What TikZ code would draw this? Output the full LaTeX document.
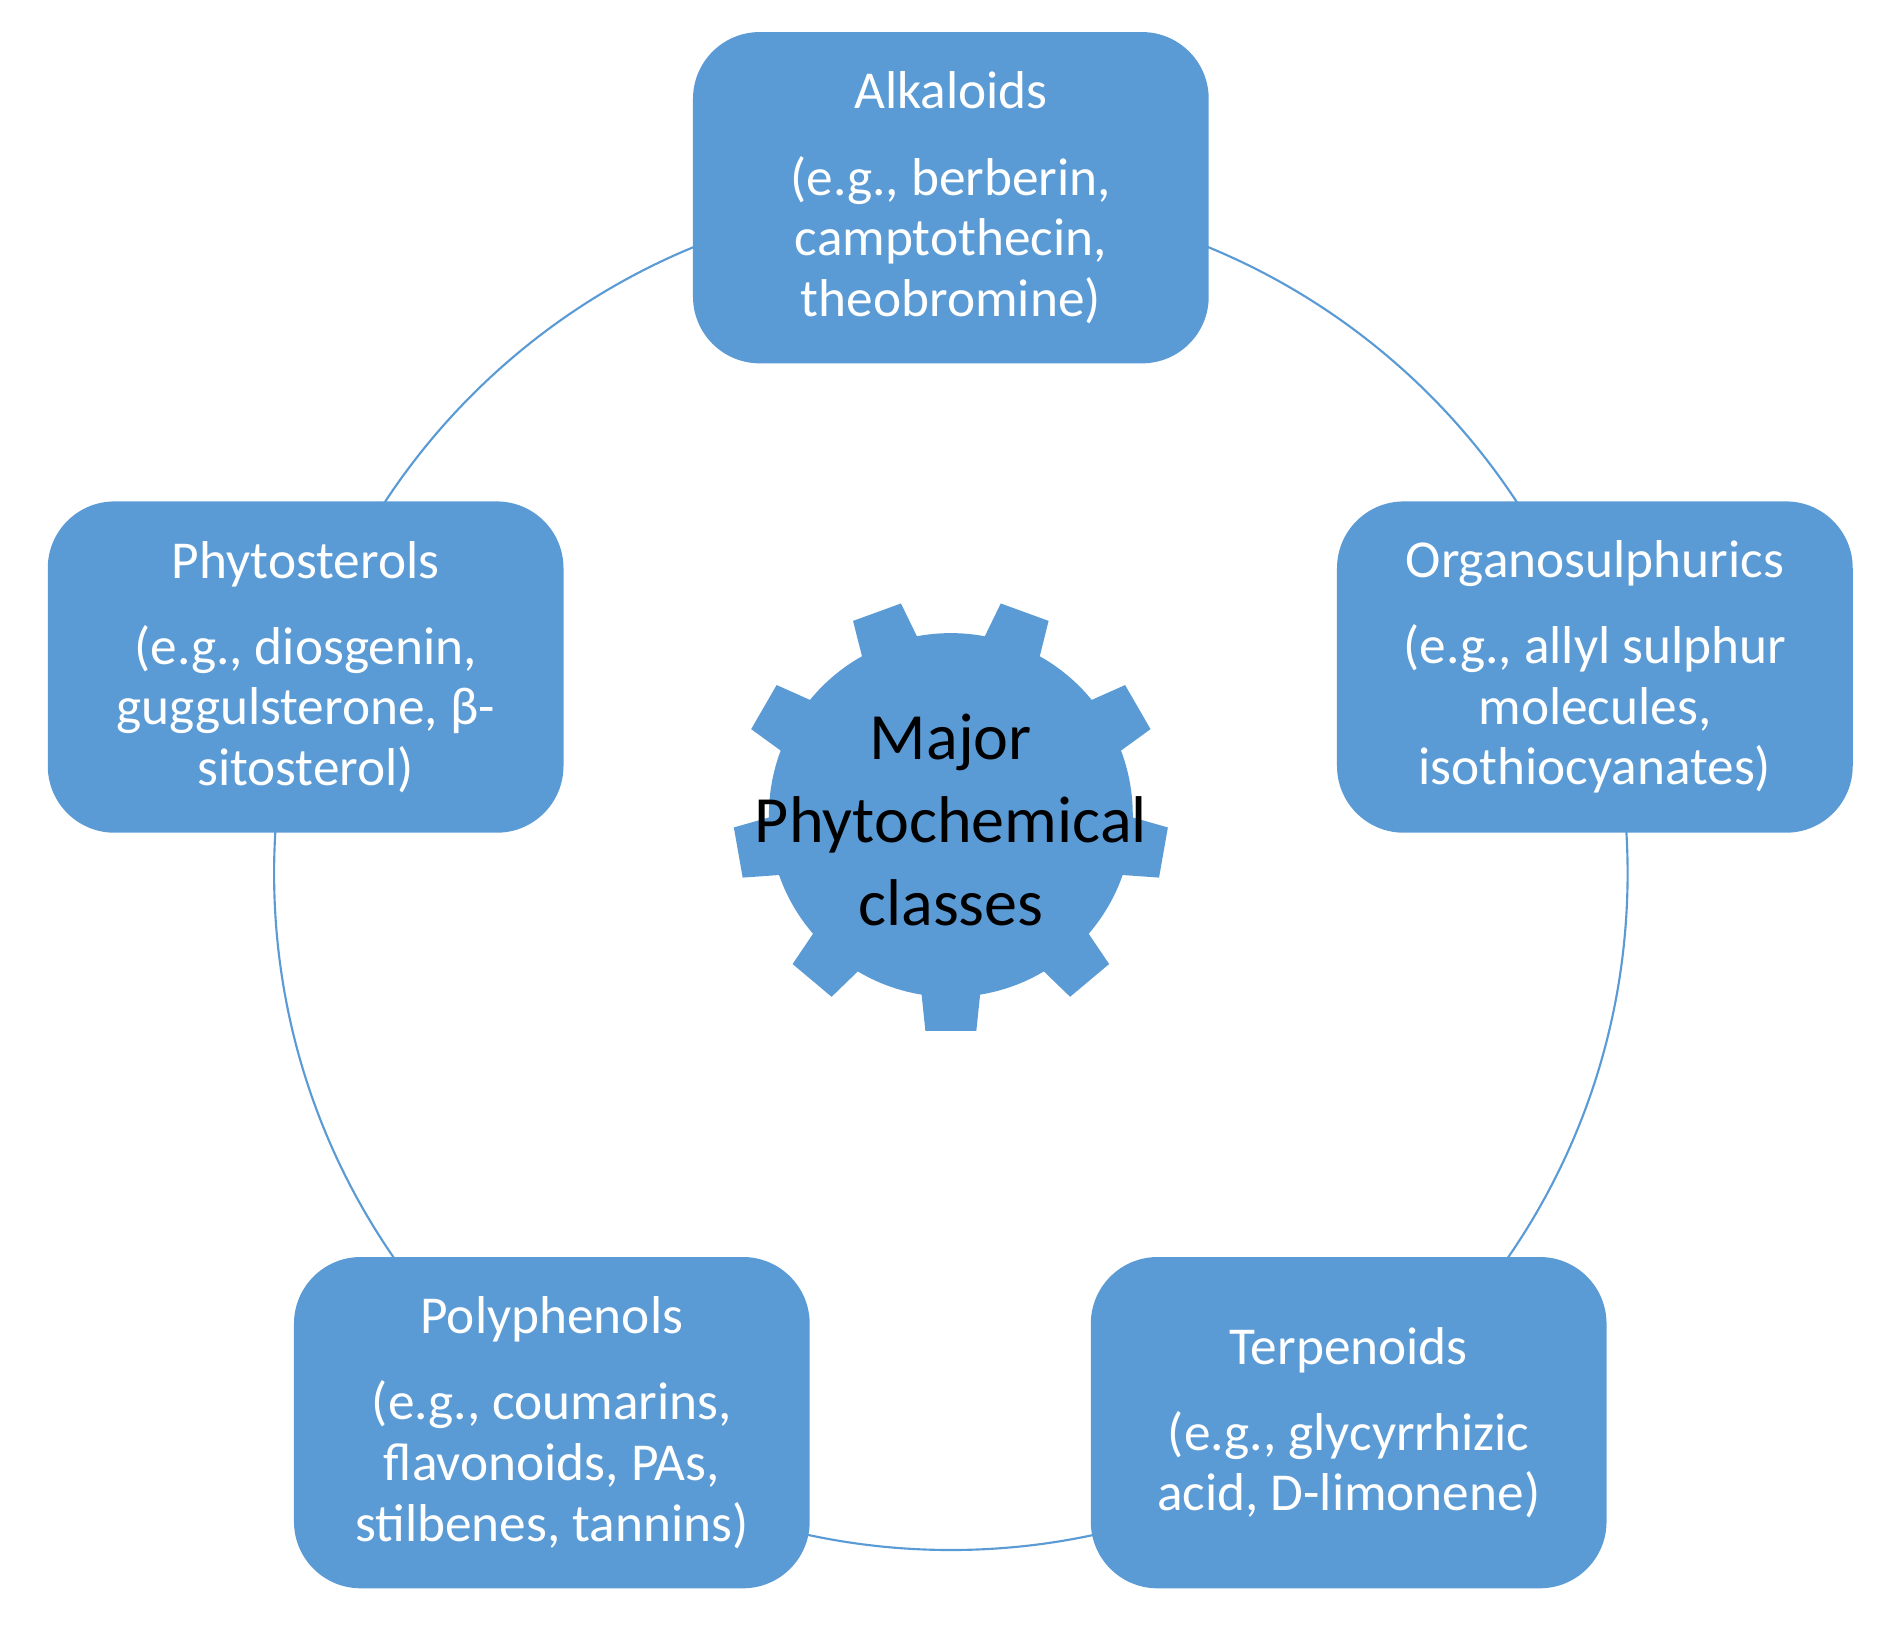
\documentclass[tikz,border=0pt]{standalone}
\usepackage{fontspec}
\setmainfont{Carlito}
\definecolor{ob}{HTML}{5B9BD5}
\begin{document}
\begin{tikzpicture}[x=0.01cm,y=-0.01cm,
 cbox/.style={fill=ob,rounded corners=0.55cm,minimum width=4.25cm,minimum height=2.73cm,text=white,align=center,font=\fontsize{12.5}{14.2}\selectfont,inner sep=2pt}]
\useasboundingbox (0,0) rectangle (1560,1347);
\draw[ob,line width=0.5pt] (784,720) circle[radius=558];
% gear
\begin{scope}[shift={(784,672)}]
\fill[ob] (0,0) circle[radius=150];
\foreach \a in {90,50,10,-30,-70,-110,-150,170,130}
  \fill[ob,rotate=-\a] (130,-26) -- (178,-21) -- (178,21) -- (130,26) -- cycle;
\end{scope}
\node[align=center,font=\fontsize{15.5}{19.5}\selectfont] (g) at (784,676) {Major\\Phytochemical\\classes};
\node[cbox] (alk) at (784,163) {Alkaloids\\[6pt](e.g., berberin,\\camptothecin,\\theobromine)};
\node[cbox] (phy) at (252,550) {Phytosterols\\[6pt](e.g., diosgenin,\\guggulsterone, β-\\sitosterol)};
\node[cbox] (org) at (1315,550) {Organosulphurics\\[6pt](e.g., allyl sulphur\\molecules,\\isothiocyanates)};
\node[cbox] (pol) at (455,1173) {Polyphenols\\[6pt](e.g., coumarins,\\flavonoids, PAs,\\stilbenes, tannins)};
\node[cbox] (ter) at (1112,1173) {Terpenoids\\[6pt](e.g., glycyrrhizic\\acid, D-limonene)};
\end{tikzpicture}
\end{document}
